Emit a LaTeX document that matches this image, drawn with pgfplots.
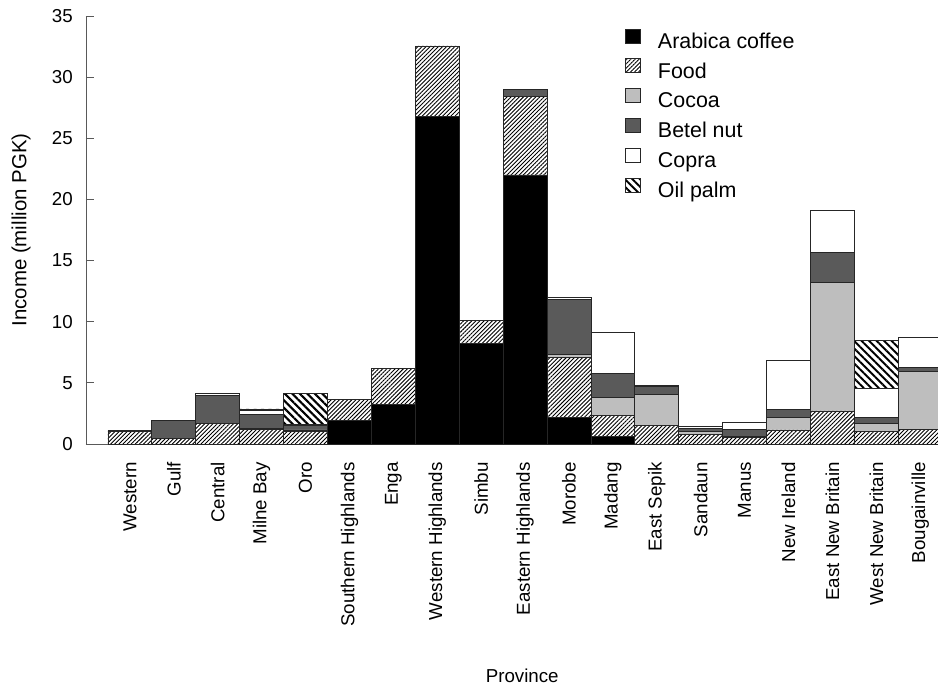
\documentclass[border=0pt]{standalone}
\usepackage{fontspec}
\setmainfont{Liberation Sans}
\usepackage{pgfplots}
\pgfplotsset{compat=1.18}
\usepackage{pgfplotstable}
\usetikzlibrary{patterns.meta}
\definecolor{cocoa}{HTML}{BEBEBE}
\definecolor{betel}{HTML}{5A5A5A}
\definecolor{axgray}{HTML}{595959}

\pgfplotstableread{
x coffee food cocoa betel copra oil
0  0     1.00 0     0.10 0    0
1  0     0.45 0     1.50 0    0
2  0     1.70 0     2.30 0.15 0
3  0     1.20 0.05  1.15 0.35 0.12
4  0     1.00 0.15  0.35 0.10 2.55
5  1.95  1.70 0     0    0    0
6  3.25  2.95 0     0    0    0
7  26.75 5.80 0     0    0    0
8  8.25  1.85 0     0    0    0
9  22.00 6.40 0     0.60 0    0
10 2.15  4.95 0.20  4.50 0.20 0
11 0.65  1.65 1.50  2.00 3.30 0
12 0     1.50 2.55  0.65 0.10 0
13 0     0.75 0.25  0.30 0.10 0
14 0     0.55 0.10  0.55 0.57 0
15 0     1.15 1.00  0.70 3.95 0
16 0     2.70 10.50 2.45 3.45 0
17 0     1.00 0.70  0.50 2.35 3.90
18 0     1.20 4.75  0.30 2.50 0
}\data

\pgfplotsset{
  mylegend/.style={legend image code/.code={\draw[##1, draw=black!85, line width=0.8bp] (0bp,0bp) rectangle (15bp,14bp);}},
}

\begin{document}
\begin{tikzpicture}
\begin{axis}[
  name=ax,
  scale only axis, width=852bp, height=428bp,
  xmin=-1.0, xmax=18.405, ymin=0, ymax=35,
  ybar stacked, bar width=1,
  axis x line=bottom, axis y line=left,
  axis line style={-, draw=axgray, line width=0.8bp},
  x axis line style={-}, y axis line style={-},
  xtick=data,
  xticklabels={Western,Gulf,Central,Milne Bay,Oro,Southern Highlands,Enga,Western Highlands,Simbu,Eastern Highlands,Morobe,Madang,East Sepik,Sandaun,Manus,New Ireland,East New Britain,West New Britain,Bougainville},
  x tick style={draw=none},
  xticklabel shift=18bp,
  xticklabel style={rotate=90, anchor=east, inner sep=0pt, font=\fontsize{18.8}{20}\selectfont},
  ytick={0,5,...,35},
  tick align=inside,
  major tick length=8bp,
  y tick style={draw=axgray, line width=0.8bp},
  yticklabel shift=13bp,
  yticklabel style={inner sep=0pt, font=\fontsize{18.8}{20}\selectfont},
  /pgf/number format/assume math mode=true,
  every axis y label/.style={at={([xshift=-65bp]axis description cs:0,0.5)}, rotate=90, anchor=center, font=\fontsize{20.5}{22}\selectfont},
  every axis x label/.style={at={([yshift=-232bp]axis description cs:0.512,0)}, anchor=center, font=\fontsize{18.8}{20}\selectfont},
  ylabel={Income (million PGK)},
  xlabel={Province},
  legend cell align=left,
  legend style={draw=none, fill=none, at={(axis description cs:0.6326,0.971)}, anchor=north west,
    inner sep=0pt, row sep=5.7bp, column sep=17bp,
    nodes={inner sep=0pt, text height=15bp, text depth=4.5bp},
    font=\fontsize{21.5}{23}\selectfont},
]
\addplot[mylegend, fill=black, draw=black!85, line width=0.8bp] table[x=x, y=coffee] {\data};
\addplot[mylegend, fill=white, draw=black!85, line width=0.8bp, postaction={pattern={Lines[angle=45,distance=2.9bp,line width=0.9bp]}}] table[x=x, y=food] {\data};
\addplot[mylegend, fill=cocoa, draw=black!85, line width=0.8bp] table[x=x, y=cocoa] {\data};
\addplot[mylegend, fill=betel, draw=black!85, line width=0.8bp] table[x=x, y=betel] {\data};
\addplot[mylegend, fill=white, draw=black!85, line width=0.8bp] table[x=x, y=copra] {\data};
\addplot[mylegend, fill=white, draw=black!85, line width=0.8bp, postaction={pattern={Lines[angle=-45,distance=5.3bp,line width=2bp]}}] table[x=x, y=oil] {\data};
\legend{Arabica coffee, Food, Cocoa, Betel nut, Copra, Oil palm}
\end{axis}
\pgfresetboundingbox
\path[use as bounding box] ([shift={(-86bp,-242bp)}]ax.south west) rectangle ([shift={(852bp,444bp)}]ax.south west);
\end{tikzpicture}
\end{document}
